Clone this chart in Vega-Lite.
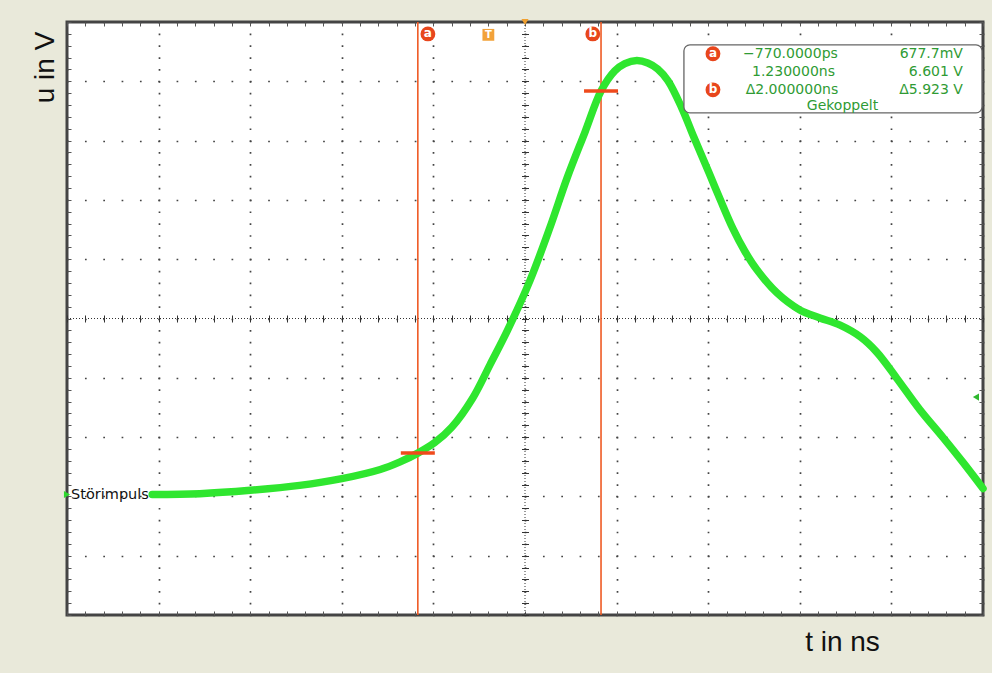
{
  "$schema": "https://vega.github.io/schema/vega-lite/v6.json",
  "width": 916,
  "height": 593,
  "autosize": {"type": "none"},
  "padding": {"left": 67, "top": 22, "right": 9, "bottom": 58},
  "background": "#e9e9da",
  "config": {
    "view": {"fill": "white", "stroke": "#444444", "strokeWidth": 3},
    "axis": {"labels": false, "domain": false, "grid": false, "tickColor": "#555555", "tickWidth": 1}
  },
  "datasets": {
    "curve": [
      {"t": -3.67, "u": 0.0}, {"t": -3.15, "u": 0.015}, {"t": -2.6, "u": 0.07}, {"t": -2.06, "u": 0.15},
      {"t": -1.6, "u": 0.26}, {"t": -1.18, "u": 0.41}, {"t": -0.97, "u": 0.53}, {"t": -0.77, "u": 0.678},
      {"t": -0.585, "u": 0.85}, {"t": -0.4, "u": 1.1}, {"t": -0.17, "u": 1.58}, {"t": 0.02, "u": 2.13},
      {"t": 0.21, "u": 2.69}, {"t": 0.454, "u": 3.5}, {"t": 0.67, "u": 4.36}, {"t": 0.86, "u": 5.18},
      {"t": 1.055, "u": 5.93}, {"t": 1.23, "u": 6.601}, {"t": 1.38, "u": 6.93}, {"t": 1.49, "u": 7.05},
      {"t": 1.62, "u": 7.1}, {"t": 1.74, "u": 7.06}, {"t": 1.85, "u": 6.96}, {"t": 1.96, "u": 6.77},
      {"t": 2.11, "u": 6.33}, {"t": 2.245, "u": 5.84}, {"t": 2.41, "u": 5.26}, {"t": 2.53, "u": 4.83},
      {"t": 2.67, "u": 4.35}, {"t": 2.8, "u": 3.98}, {"t": 2.93, "u": 3.68}, {"t": 3.15, "u": 3.3},
      {"t": 3.4, "u": 3.02}, {"t": 3.62, "u": 2.89}, {"t": 3.84, "u": 2.77}, {"t": 4.06, "u": 2.58},
      {"t": 4.24, "u": 2.33}, {"t": 4.46, "u": 1.9}, {"t": 4.71, "u": 1.39}, {"t": 4.96, "u": 0.94},
      {"t": 5.18, "u": 0.53}, {"t": 5.4, "u": 0.1}
    ],
    "cursors": [
      {"cursor": "a", "t": -0.77, "u": 0.678},
      {"cursor": "b", "t": 1.23, "u": 6.601}
    ],
    "badges": [
      {"cursor": "a", "t": -0.66, "u": 7.535},
      {"cursor": "b", "t": 1.14, "u": 7.535},
      {"cursor": "a", "t": 2.452, "u": 7.21},
      {"cursor": "b", "t": 2.452, "u": 6.62}
    ],
    "center": [{"t": 0.4, "u": 2.88}],
    "markers": [
      {"kind": "ground", "t": -4.6, "u": 0.0, "label": "Störimpuls"},
      {"kind": "trigger", "t": 0.0, "u": 7.52, "label": "T"},
      {"kind": "pos", "t": 0.4, "u": 7.73, "label": ""},
      {"kind": "level", "t": 5.323, "u": 1.594, "label": ""}
    ],
    "box": [{"t": 2.135, "t2": 5.389, "u": 7.356, "u2": 6.243}],
    "readout": [
      {"col": "mid", "text": "−770.0000ps", "t": 3.298, "u": 7.21},
      {"col": "mid", "text": "1.230000ns", "t": 3.331, "u": 6.91},
      {"col": "mid", "text": "Δ2.000000ns", "t": 3.314, "u": 6.62},
      {"col": "mid", "text": "Gekoppelt", "t": 3.866, "u": 6.36},
      {"col": "right", "text": "677.7mV", "t": 5.181, "u": 7.21},
      {"col": "right", "text": "6.601 V", "t": 5.181, "u": 6.91},
      {"col": "right", "text": "Δ5.923 V", "t": 5.181, "u": 6.62}
    ]
  },
  "resolve": {"axis": {"x": "independent", "y": "independent"}},
  "layer": [
    {
      "data": {"name": "box"},
      "mark": {"type": "rule", "opacity": 0},
      "encoding": {
        "x": {"field": "t", "type": "quantitative", "scale": {"domain": [-4.6, 5.4], "nice": false, "zero": false},
          "axis": {"orient": "bottom", "title": null, "ticks": false, "grid": true, "gridColor": "#444444", "gridWidth": 1.7, "gridDash": [1.7, 10.16], "gridDashOffset": 0.85,
            "values": [-4.6, -3.6, -2.6, -1.6, -0.6, 0.4, 1.4, 2.4, 3.4, 4.4, 5.4]}},
        "y": {"field": "u", "type": "quantitative", "scale": {"domain": [-1.97, 7.73], "nice": false, "zero": false},
          "axis": {"orient": "left", "title": null, "ticks": false, "grid": true, "gridColor": "#444444", "gridWidth": 1.7, "gridDash": [1.7, 16.62], "gridDashOffset": 0.85,
            "values": [-1.97, -1.0, -0.03, 0.94, 1.91, 2.88, 3.85, 4.82, 5.79, 6.76, 7.73]}}
      }
    },
    {
      "data": {"name": "center"},
      "mark": {"type": "rule", "color": "#333333", "strokeWidth": 1, "strokeDash": [1, 2]},
      "encoding": {
        "x": {"field": "t", "type": "quantitative", "scale": {"domain": [-4.6, 5.4], "nice": false, "zero": false},
          "axis": {"orient": "bottom", "offset": -300, "title": null, "tickSize": 7, "tickColor": "#333333",
            "values": [-4.6, -4.4, -4.2, -4, -3.8, -3.6, -3.4, -3.2, -3, -2.8, -2.6, -2.4, -2.2, -2, -1.8, -1.6, -1.4, -1.2, -1, -0.8, -0.6, -0.4, -0.2, 0, 0.2, 0.4, 0.6, 0.8, 1, 1.2, 1.4, 1.6, 1.8, 2, 2.2, 2.4, 2.6, 2.8, 3, 3.2, 3.4, 3.6, 3.8, 4, 4.2, 4.4, 4.6, 4.8, 5, 5.2, 5.4]}}
      }
    },
    {
      "data": {"name": "center"},
      "mark": {"type": "rule", "color": "#333333", "strokeWidth": 1, "strokeDash": [1, 2]},
      "encoding": {
        "y": {"field": "u", "type": "quantitative", "scale": {"domain": [-1.97, 7.73], "nice": false, "zero": false},
          "axis": {"orient": "left", "offset": -461.5, "title": null, "tickSize": 7, "tickColor": "#333333",
            "values": [-1.97, -1.776, -1.582, -1.388, -1.194, -1.0, -0.806, -0.612, -0.418, -0.224, -0.03, 0.164, 0.358, 0.552, 0.746, 0.94, 1.134, 1.328, 1.522, 1.716, 1.91, 2.104, 2.298, 2.492, 2.686, 2.88, 3.074, 3.268, 3.462, 3.656, 3.85, 4.044, 4.238, 4.432, 4.626, 4.82, 5.014, 5.208, 5.402, 5.596, 5.79, 5.984, 6.178, 6.372, 6.566, 6.76, 6.954, 7.148, 7.342, 7.536, 7.73]}}
      }
    },
    {
      "data": {"name": "cursors"},
      "mark": {"type": "rule", "color": "#ef5a24", "strokeWidth": 1.6},
      "encoding": {
        "x": {"field": "t", "type": "quantitative", "scale": {"domain": [-4.6, 5.4], "nice": false, "zero": false},
          "axis": {"orient": "top", "title": null, "tickSize": -4,
            "values": [-4.6, -4.4, -4.2, -4, -3.8, -3.6, -3.4, -3.2, -3, -2.8, -2.6, -2.4, -2.2, -2, -1.8, -1.6, -1.4, -1.2, -1, -0.8, -0.6, -0.4, -0.2, 0, 0.2, 0.4, 0.6, 0.8, 1, 1.2, 1.4, 1.6, 1.8, 2, 2.2, 2.4, 2.6, 2.8, 3, 3.2, 3.4, 3.6, 3.8, 4, 4.2, 4.4, 4.6, 4.8, 5, 5.2, 5.4]}}
      }
    },
    {
      "data": {"name": "curve"},
      "mark": {"type": "line", "color": "#2fe62f", "strokeWidth": 7.5, "strokeCap": "round", "strokeJoin": "round", "interpolate": "catmull-rom"},
      "encoding": {
        "x": {"field": "t", "type": "quantitative", "scale": {"domain": [-4.6, 5.4], "nice": false, "zero": false},
          "axis": {"orient": "bottom", "tickSize": -4, "title": "t in ns", "titleFont": "Liberation Sans", "titleFontSize": 28, "titleFontWeight": "normal", "titleColor": "#111111",
            "titleX": 775, "titleY": 35, "titleAlign": "center", "titleBaseline": "alphabetic", "titleAngle": 0,
            "values": [-4.6, -4.4, -4.2, -4, -3.8, -3.6, -3.4, -3.2, -3, -2.8, -2.6, -2.4, -2.2, -2, -1.8, -1.6, -1.4, -1.2, -1, -0.8, -0.6, -0.4, -0.2, 0, 0.2, 0.4, 0.6, 0.8, 1, 1.2, 1.4, 1.6, 1.8, 2, 2.2, 2.4, 2.6, 2.8, 3, 3.2, 3.4, 3.6, 3.8, 4, 4.2, 4.4, 4.6, 4.8, 5, 5.2, 5.4]}},
        "y": {"field": "u", "type": "quantitative", "scale": {"domain": [-1.97, 7.73], "nice": false, "zero": false},
          "axis": {"orient": "left", "tickSize": -4, "title": "u in V", "titleFont": "Liberation Sans", "titleFontSize": 28, "titleFontWeight": "normal", "titleColor": "#111111",
            "titleX": -14, "titleY": 45, "titleAlign": "center", "titleBaseline": "alphabetic", "titleAngle": 270,
            "values": [-1.97, -1.776, -1.582, -1.388, -1.194, -1.0, -0.806, -0.612, -0.418, -0.224, -0.03, 0.164, 0.358, 0.552, 0.746, 0.94, 1.134, 1.328, 1.522, 1.716, 1.91, 2.104, 2.298, 2.492, 2.686, 2.88, 3.074, 3.268, 3.462, 3.656, 3.85, 4.044, 4.238, 4.432, 4.626, 4.82, 5.014, 5.208, 5.402, 5.596, 5.79, 5.984, 6.178, 6.372, 6.566, 6.76, 6.954, 7.148, 7.342, 7.536, 7.73]}}
      }
    },
    {
      "data": {"name": "cursors"},
      "mark": {"type": "tick", "orient": "horizontal", "color": "#ef4a1c", "size": 34, "thickness": 3.5, "opacity": 1},
      "encoding": {
        "x": {"field": "t", "type": "quantitative", "scale": {"domain": [-4.6, 5.4], "nice": false, "zero": false}, "axis": null},
        "y": {"field": "u", "type": "quantitative", "scale": {"domain": [-1.97, 7.73], "nice": false, "zero": false},
          "axis": {"orient": "right", "title": null, "tickSize": -4,
            "values": [-1.97, -1.776, -1.582, -1.388, -1.194, -1.0, -0.806, -0.612, -0.418, -0.224, -0.03, 0.164, 0.358, 0.552, 0.746, 0.94, 1.134, 1.328, 1.522, 1.716, 1.91, 2.104, 2.298, 2.492, 2.686, 2.88, 3.074, 3.268, 3.462, 3.656, 3.85, 4.044, 4.238, 4.432, 4.626, 4.82, 5.014, 5.208, 5.402, 5.596, 5.79, 5.984, 6.178, 6.372, 6.566, 6.76, 6.954, 7.148, 7.342, 7.536, 7.73]}}
      }
    },
    {
      "data": {"name": "box"},
      "mark": {"type": "rect", "fill": "white", "stroke": "#666666", "strokeWidth": 1.3, "cornerRadius": 6},
      "encoding": {
        "x": {"field": "t", "type": "quantitative", "scale": {"domain": [-4.6, 5.4], "nice": false, "zero": false}, "axis": null},
        "x2": {"field": "t2"},
        "y": {"field": "u", "type": "quantitative", "scale": {"domain": [-1.97, 7.73], "nice": false, "zero": false}, "axis": null},
        "y2": {"field": "u2"}
      }
    },
    {
      "data": {"name": "badges"},
      "mark": {"type": "point", "shape": "circle", "filled": true, "color": "#e8461c", "size": 220, "opacity": 1},
      "encoding": {
        "x": {"field": "t", "type": "quantitative", "scale": {"domain": [-4.6, 5.4], "nice": false, "zero": false}, "axis": null},
        "y": {"field": "u", "type": "quantitative", "scale": {"domain": [-1.97, 7.73], "nice": false, "zero": false}, "axis": null}
      }
    },
    {
      "data": {"name": "badges"},
      "mark": {"type": "text", "color": "white", "font": "DejaVu Sans", "fontSize": 12, "fontWeight": "bold", "align": "center", "baseline": "middle", "dy": -1},
      "encoding": {
        "x": {"field": "t", "type": "quantitative", "scale": {"domain": [-4.6, 5.4], "nice": false, "zero": false}, "axis": null},
        "y": {"field": "u", "type": "quantitative", "scale": {"domain": [-1.97, 7.73], "nice": false, "zero": false}, "axis": null},
        "text": {"field": "cursor"}
      }
    },
    {
      "data": {"name": "markers"},
      "transform": [{"filter": "datum.kind === 'trigger'"}],
      "mark": {"type": "point", "shape": "square", "filled": true, "color": "#f2a23a", "size": 140, "opacity": 1},
      "encoding": {
        "x": {"field": "t", "type": "quantitative", "scale": {"domain": [-4.6, 5.4], "nice": false, "zero": false}, "axis": null},
        "y": {"field": "u", "type": "quantitative", "scale": {"domain": [-1.97, 7.73], "nice": false, "zero": false}, "axis": null}
      }
    },
    {
      "data": {"name": "markers"},
      "transform": [{"filter": "datum.kind === 'trigger'"}],
      "mark": {"type": "text", "color": "white", "font": "DejaVu Sans", "fontSize": 10, "fontWeight": "bold", "align": "center", "baseline": "middle"},
      "encoding": {
        "x": {"field": "t", "type": "quantitative", "scale": {"domain": [-4.6, 5.4], "nice": false, "zero": false}, "axis": null},
        "y": {"field": "u", "type": "quantitative", "scale": {"domain": [-1.97, 7.73], "nice": false, "zero": false}, "axis": null},
        "text": {"field": "label"}
      }
    },
    {
      "data": {"name": "markers"},
      "transform": [{"filter": "datum.kind === 'pos'"}],
      "mark": {"type": "point", "shape": "triangle-down", "filled": true, "color": "#f0a030", "size": 50, "opacity": 1, "dy": 3},
      "encoding": {
        "x": {"field": "t", "type": "quantitative", "scale": {"domain": [-4.6, 5.4], "nice": false, "zero": false}, "axis": null},
        "y": {"field": "u", "type": "quantitative", "scale": {"domain": [-1.97, 7.73], "nice": false, "zero": false}, "axis": null}
      }
    },
    {
      "data": {"name": "markers"},
      "transform": [{"filter": "datum.kind === 'level'"}],
      "mark": {"type": "point", "shape": "triangle-left", "filled": true, "color": "#2fb82f", "size": 50, "opacity": 1},
      "encoding": {
        "x": {"field": "t", "type": "quantitative", "scale": {"domain": [-4.6, 5.4], "nice": false, "zero": false}, "axis": null},
        "y": {"field": "u", "type": "quantitative", "scale": {"domain": [-1.97, 7.73], "nice": false, "zero": false}, "axis": null}
      }
    },
    {
      "data": {"name": "markers"},
      "transform": [{"filter": "datum.kind === 'ground'"}],
      "mark": {"type": "point", "shape": "triangle-right", "filled": true, "color": "#2fd82f", "size": 50, "opacity": 1, "dx": 1},
      "encoding": {
        "x": {"field": "t", "type": "quantitative", "scale": {"domain": [-4.6, 5.4], "nice": false, "zero": false}, "axis": null},
        "y": {"field": "u", "type": "quantitative", "scale": {"domain": [-1.97, 7.73], "nice": false, "zero": false}, "axis": null}
      }
    },
    {
      "data": {"name": "markers"},
      "transform": [{"filter": "datum.kind === 'ground'"}],
      "mark": {"type": "text", "color": "#111111", "font": "DejaVu Sans", "fontSize": 14.5, "align": "left", "baseline": "middle", "dx": 4},
      "encoding": {
        "x": {"field": "t", "type": "quantitative", "scale": {"domain": [-4.6, 5.4], "nice": false, "zero": false}, "axis": null},
        "y": {"field": "u", "type": "quantitative", "scale": {"domain": [-1.97, 7.73], "nice": false, "zero": false}, "axis": null},
        "text": {"field": "label"}
      }
    },
    {
      "data": {"name": "readout"},
      "transform": [{"filter": "datum.col === 'mid'"}],
      "mark": {"type": "text", "color": "#2f9b34", "font": "DejaVu Sans", "fontSize": 14, "align": "center", "baseline": "middle"},
      "encoding": {
        "x": {"field": "t", "type": "quantitative", "scale": {"domain": [-4.6, 5.4], "nice": false, "zero": false}, "axis": null},
        "y": {"field": "u", "type": "quantitative", "scale": {"domain": [-1.97, 7.73], "nice": false, "zero": false}, "axis": null},
        "text": {"field": "text"}
      }
    },
    {
      "data": {"name": "readout"},
      "transform": [{"filter": "datum.col === 'right'"}],
      "mark": {"type": "text", "color": "#2f9b34", "font": "DejaVu Sans", "fontSize": 14, "align": "right", "baseline": "middle"},
      "encoding": {
        "x": {"field": "t", "type": "quantitative", "scale": {"domain": [-4.6, 5.4], "nice": false, "zero": false}, "axis": null},
        "y": {"field": "u", "type": "quantitative", "scale": {"domain": [-1.97, 7.73], "nice": false, "zero": false}, "axis": null},
        "text": {"field": "text"}
      }
    }
  ]
}
